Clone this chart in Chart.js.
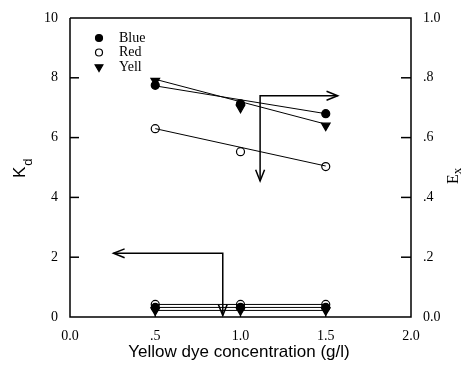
<!DOCTYPE html>
<html><head><meta charset="utf-8">
<script src="https://cdn.jsdelivr.net/npm/chart.js@4"></script>
<style>html,body{margin:0;padding:0;background:#fff}#wrap{width:462px;height:372px}</style>
</head><body><div id="wrap"><canvas id="c" width="462" height="372"></canvas></div>
<script>
// ---- data ----
const concentrations = [0.5, 1.0, 1.5];
const exBlue = [0.775, 0.713, 0.68];
const exRed = [0.63, 0.553, 0.503];
const exYell = [0.79, 0.70, 0.64];
const fitX = [0.5, 1.5];
const exBlueFit = [0.773, 0.68];
const exRedFit = [0.63, 0.505];
const exYellFit = [0.795, 0.645];
const kdBlue = [0.32, 0.32, 0.32];
const kdRed = [0.42, 0.42, 0.42];
const kdYell = [0.22, 0.22, 0.22];
const seriesNames = ['Blue', 'Red', 'Yell'];
const xTicks = [0, 0.5, 1.0, 1.5, 2.0];
const xTickLabels = ['0.0', '.5', '1.0', '1.5', '2.0'];
const kdTicks = [0, 2, 4, 6, 8, 10];
const kdTickLabels = ['0', '2', '4', '6', '8', '10'];
const exTicks = [0, 0.2, 0.4, 0.6, 0.8, 1.0];
const exTickLabels = ['0.0', '.2', '.4', '.6', '.8', '1.0'];
// arrow paths [x, value] : upper on Ex axis, lower on Kd axis
const arrowEx = [[1.57, 0.74], [1.115, 0.74], [1.115, 0.455]];
const arrowKd = [[0.255, 2.13], [0.896, 2.13], [0.896, 0.05]];

const pts = (ys, xs) => ys.map((v, i) => ({x: (xs || concentrations)[i], y: v}));

function markerDs(label, data, axis, style) {
  return Object.assign({label, data: pts(data), yAxisID: axis, showLine: false,
    borderColor: '#000', borderWidth: 1.2, pointBorderWidth: 1.2}, style);
}
const blueStyle = {pointStyle: 'circle', pointRadius: 4, pointBackgroundColor: '#000', pointBorderColor: '#000'};
const redStyle = {pointStyle: 'circle', pointRadius: 4, pointBackgroundColor: '#fff', pointBorderColor: '#000'};
const yellStyle = {pointStyle: 'triangle', rotation: 180, pointRadius: 5, pointBackgroundColor: '#000', pointBorderColor: '#000'};
function lineDs(data, axis, xs) {
  return {data: pts(data, xs), yAxisID: axis, showLine: true, borderColor: '#000', borderWidth: 1,
    pointRadius: 0, fill: false};
}

const fixedTicks = (vals) => (scale) => { scale.ticks = vals.map(v => ({value: v})); };

const framePlugin = {
  id: 'frame',
  afterDatasetsDraw(chart) {
    const {ctx, chartArea: a, scales} = chart;
    ctx.save();
    ctx.strokeStyle = '#000';
    ctx.lineWidth = 1.5;
    ctx.beginPath();
    ctx.moveTo(a.left, a.top); ctx.lineTo(a.left, a.bottom); ctx.lineTo(a.right, a.bottom);
    ctx.lineTo(a.right, a.top); ctx.lineTo(a.left, a.top);
    ctx.stroke();
    // inner ticks
    ctx.lineWidth = 1.5;
    kdTicks.forEach(v => { if (v === 0 || v === 10) return; const y = scales.y.getPixelForValue(v);
      ctx.beginPath(); ctx.moveTo(a.left, y); ctx.lineTo(a.left + 9, y); ctx.stroke(); });
    exTicks.forEach(v => { if (v === 0 || v === 1) return; const y = scales.y1.getPixelForValue(v);
      ctx.beginPath(); ctx.moveTo(a.right, y); ctx.lineTo(a.right - 10, y); ctx.stroke(); });
    // stems under lower markers
    ctx.lineWidth = 1.2;
    concentrations.forEach((x, i) => { const px = scales.x.getPixelForValue(x);
      ctx.beginPath(); ctx.moveTo(px, scales.y.getPixelForValue(kdRed[i])); ctx.lineTo(px, a.bottom); ctx.stroke(); });
    // arrows
    function arrow(path, yScale) {
      const p = path.map(([x, v]) => [scales.x.getPixelForValue(x), yScale.getPixelForValue(v)]);
      ctx.lineWidth = 1.5;
      ctx.beginPath(); ctx.moveTo(p[0][0], p[0][1]);
      for (let i = 1; i < p.length; i++) ctx.lineTo(p[i][0], p[i][1]);
      ctx.stroke();
      const head = (tip, from) => {
        const ang = Math.atan2(tip[1] - from[1], tip[0] - from[0]);
        const L = 12, w = 0.38;
        ctx.beginPath();
        ctx.moveTo(tip[0] - L * Math.cos(ang - w), tip[1] - L * Math.sin(ang - w));
        ctx.lineTo(tip[0], tip[1]);
        ctx.lineTo(tip[0] - L * Math.cos(ang + w), tip[1] - L * Math.sin(ang + w));
        ctx.stroke();
      };
      head(p[0], p[1]);
      head(p[p.length - 1], p[p.length - 2]);
    }
    arrow(arrowEx, scales.y1);
    arrow(arrowKd, scales.y);
    // legend
    const styles = [blueStyle, redStyle, yellStyle];
    ctx.font = '14px "Liberation Serif"';
    ctx.textBaseline = 'middle'; ctx.textAlign = 'left'; ctx.fillStyle = '#000';
    seriesNames.forEach((n, i) => {
      const y = 38 + i * 14.5;
      const s = styles[i];
      ctx.fillStyle = s.pointBackgroundColor; ctx.strokeStyle = '#000'; ctx.lineWidth = 1.2;
      Chart.helpers.drawPoint(ctx, {pointStyle: s.pointStyle, radius: s.pointRadius - 0.5, rotation: s.rotation || 0, borderWidth: 1.2}, 99, y);
      ctx.fillStyle = '#000';
      ctx.fillText(n, 119, y);
    });
    // axis titles
    ctx.fillStyle = '#000';
    ctx.save(); ctx.translate(25, 172); ctx.rotate(-Math.PI / 2);
    ctx.textAlign = 'left'; ctx.textBaseline = 'alphabetic';
    ctx.font = '17px "Liberation Sans"'; ctx.fillText('K', -6, 0);
    const kw = ctx.measureText('K').width;
    ctx.font = '13px "Liberation Sans"'; ctx.fillText('d', -6 + kw + 1, 7);
    ctx.restore();
    ctx.save(); ctx.translate(458, 184); ctx.rotate(-Math.PI / 2);
    ctx.textAlign = 'left'; ctx.textBaseline = 'alphabetic';
    ctx.font = '16px "Liberation Serif"'; ctx.fillText('E', 0, 0);
    const ew = ctx.measureText('E').width;
    ctx.font = '13px "Liberation Serif"'; ctx.fillText('x', ew, 3);
    ctx.restore();
    ctx.font = '17px "Liberation Sans"'; ctx.textAlign = 'center'; ctx.textBaseline = 'middle';
    ctx.fillText('Yellow dye concentration (g/l)', 239, 352);
    ctx.restore();
  }
};

new Chart(document.getElementById('c'), {
  type: 'scatter',
  data: {
    datasets: [
      lineDs(exBlueFit, 'y1', fitX), lineDs(exRedFit, 'y1', fitX), lineDs(exYellFit, 'y1', fitX),
      lineDs(kdRed, 'y'), lineDs(kdBlue, 'y'), lineDs(kdYell, 'y'),
      markerDs('Blue', exBlue, 'y1', blueStyle),
      markerDs('Red', exRed, 'y1', redStyle),
      markerDs('Yell', exYell, 'y1', yellStyle),
      markerDs('Yell', kdYell, 'y', yellStyle),
      markerDs('Blue', kdBlue, 'y', blueStyle),
      markerDs('Red', kdRed, 'y', redStyle)
    ]
  },
  options: {
    responsive: false, animation: false, events: [],
    layout: {padding: {top: 18, left: 0, right: 0, bottom: 0}},
    plugins: {legend: {display: false}, tooltip: {enabled: false}},
    scales: {
      x: {type: 'linear', min: 0, max: 2, afterBuildTicks: fixedTicks(xTicks),
        afterFit: s => { s.height = 55; },
        grid: {display: false}, border: {display: false},
        ticks: {padding: 3, color: '#000', font: {family: 'Liberation Serif', size: 14},
          callback: v => xTickLabels[xTicks.indexOf(v)]}},
      y: {type: 'linear', position: 'left', min: 0, max: 10, afterBuildTicks: fixedTicks(kdTicks),
        afterFit: s => { s.width = 70; },
        grid: {display: false}, border: {display: false},
        ticks: {padding: 4, color: '#000', font: {family: 'Liberation Serif', size: 14},
          callback: v => kdTickLabels[kdTicks.indexOf(v)]}},
      y1: {type: 'linear', position: 'right', min: 0, max: 1, afterBuildTicks: fixedTicks(exTicks),
        afterFit: s => { s.width = 51; },
        grid: {display: false}, border: {display: false},
        ticks: {padding: 4, color: '#000', font: {family: 'Liberation Serif', size: 14},
          callback: v => exTickLabels[exTicks.map(t => t.toFixed(1)).indexOf(v.toFixed(1))]}}
    }
  },
  plugins: [framePlugin]
});
</script></body></html>
